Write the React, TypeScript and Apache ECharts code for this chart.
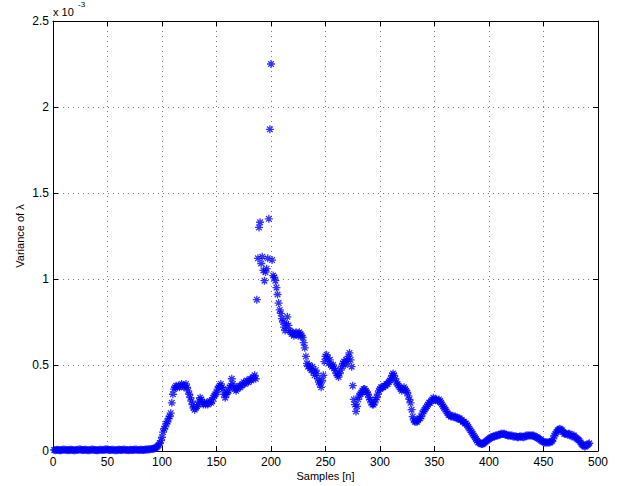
import React, { useEffect, useRef } from "react";
import * as echarts from "echarts";

// Variance of lambda (in units of 1e-3) per sample, stored as segments with their first sample index.
const baselineStart = 1;
const baseline = [
  0.006, 0.005, 0.006, 0.007, 0.006, 0.005, 0.005, 0.006, 0.007, 0.008,
  0.007, 0.006, 0.006, 0.005, 0.006, 0.007, 0.007, 0.006, 0.005, 0.005,
  0.006, 0.006, 0.007, 0.008, 0.008, 0.007, 0.006, 0.006, 0.007, 0.007,
  0.006, 0.005, 0.005, 0.006, 0.007, 0.008, 0.007, 0.006, 0.006, 0.005,
  0.005, 0.006, 0.007, 0.007, 0.006, 0.006, 0.007, 0.008, 0.009, 0.008,
  0.007, 0.006, 0.006, 0.007, 0.007, 0.006, 0.005, 0.005, 0.006, 0.007,
  0.007, 0.006, 0.006, 0.007, 0.008, 0.007, 0.006, 0.006, 0.005, 0.006,
  0.007, 0.006, 0.006, 0.007, 0.007, 0.008, 0.007, 0.006, 0.006, 0.007,
  0.007, 0.006, 0.006, 0.007, 0.008, 0.008, 0.009, 0.010, 0.010, 0.011,
  0.012, 0.013, 0.015,
];

const riseStart = 94;
const rise = [
  0.018, 0.022, 0.028, 0.035, 0.045, 0.06, 0.08, 0.11, 0.13, 0.14,
  0.16, 0.17, 0.19, 0.2, 0.22, 0.28, 0.33, 0.36, 0.37, 0.38,
  0.37, 0.38, 0.37, 0.38, 0.39, 0.38, 0.37, 0.38, 0.39, 0.37,
  0.35, 0.33, 0.31, 0.29, 0.27, 0.25, 0.24, 0.25, 0.26, 0.27,
  0.29, 0.31, 0.3, 0.28, 0.27, 0.28, 0.27, 0.28, 0.27, 0.28,
  0.29, 0.28, 0.29, 0.31, 0.32, 0.33, 0.34, 0.36, 0.37, 0.38,
  0.39, 0.37, 0.36, 0.33, 0.31, 0.33, 0.34, 0.35, 0.37, 0.38,
  0.42, 0.39, 0.37, 0.36, 0.35, 0.36, 0.37, 0.38, 0.37, 0.38,
  0.39, 0.4, 0.39, 0.4, 0.41, 0.4, 0.41, 0.42, 0.41, 0.42,
  0.43, 0.44, 0.42,
];

const burstStart = 187;
const burst = [
  0.88, 1.12, 1.3, 1.33, 1.09, 1.13, 1.05, 0.99, 1.04, 1.06,
  1.12, 1.35, 1.87, 2.25, 1.11, 1.02, 1.01, 0.99, 0.95, 0.91,
  0.86, 0.82, 0.8, 0.77, 0.75, 0.72, 0.7, 0.74, 0.78, 0.73,
  0.7, 0.69, 0.68, 0.69, 0.67, 0.68, 0.69, 0.68, 0.67, 0.69,
  0.68, 0.67, 0.66, 0.63, 0.6, 0.55, 0.51, 0.49, 0.5, 0.48,
  0.47, 0.49, 0.46, 0.44, 0.47, 0.45, 0.42, 0.4, 0.39, 0.37,
  0.41, 0.44, 0.52, 0.55, 0.56, 0.54, 0.51, 0.53, 0.5, 0.49,
  0.5, 0.48, 0.47, 0.45, 0.44, 0.43, 0.45, 0.47, 0.49, 0.51,
  0.52, 0.5, 0.53, 0.52, 0.55, 0.57, 0.53, 0.49,
];

const decayStart = 275;
const decay = [
  0.38, 0.3, 0.27, 0.23, 0.26, 0.3, 0.32, 0.33, 0.34, 0.35,
  0.36, 0.36, 0.35, 0.34, 0.33, 0.31, 0.3, 0.28, 0.27, 0.27,
  0.28, 0.3, 0.31, 0.33, 0.35, 0.36, 0.37, 0.37, 0.37, 0.38,
  0.38, 0.39, 0.39, 0.4, 0.41, 0.42, 0.44, 0.45, 0.44, 0.42,
  0.4, 0.39, 0.38, 0.37, 0.36, 0.35, 0.36, 0.37, 0.36, 0.35,
  0.34, 0.32, 0.3, 0.28, 0.24, 0.2, 0.18, 0.17, 0.17, 0.17,
  0.18, 0.19, 0.19, 0.2, 0.22, 0.23, 0.24, 0.25, 0.26, 0.27,
  0.28, 0.28, 0.29, 0.3, 0.31, 0.3, 0.3, 0.3, 0.29, 0.3,
  0.29, 0.28, 0.27, 0.26, 0.25, 0.24, 0.23, 0.22, 0.21, 0.21,
  0.2, 0.2, 0.2, 0.2, 0.2, 0.19, 0.19, 0.19, 0.19, 0.18,
  0.18, 0.17, 0.17, 0.16, 0.16, 0.15, 0.14, 0.13, 0.12, 0.11,
  0.1, 0.09, 0.08, 0.07, 0.06, 0.05, 0.05, 0.045,
];

const tailStart = 393;
const tail = [
  0.04, 0.04, 0.045, 0.05, 0.055, 0.06, 0.065, 0.07, 0.075, 0.08,
  0.08, 0.085, 0.085, 0.09, 0.09, 0.09, 0.095, 0.095, 0.1, 0.1,
  0.1, 0.1, 0.095, 0.095, 0.09, 0.09, 0.09, 0.09, 0.09, 0.085,
  0.085, 0.085, 0.085, 0.08, 0.08, 0.085, 0.085, 0.085, 0.08, 0.08,
  0.085, 0.09, 0.09, 0.09, 0.09, 0.09, 0.09, 0.09, 0.09, 0.085,
  0.08, 0.08, 0.075, 0.07, 0.065, 0.06, 0.055, 0.055, 0.05, 0.05,
  0.05, 0.05, 0.05, 0.05, 0.055, 0.06, 0.07, 0.09, 0.1, 0.11,
  0.12, 0.125, 0.13, 0.125, 0.12, 0.11, 0.1, 0.1, 0.1, 0.095,
  0.1, 0.1, 0.09, 0.085, 0.09, 0.09, 0.08, 0.075, 0.07, 0.065,
  0.06, 0.05, 0.04, 0.035, 0.03, 0.025, 0.03, 0.035, 0.04, 0.045,
];

const xTicks = [0, 50, 100, 150, 200, 250, 300, 350, 400, 450, 500];
const yTicks = [0, 0.5, 1, 1.5, 2, 2.5];

const FONT = "'Liberation Sans', Arial, Helvetica, sans-serif";
const ASTERISK = "path://M0,5L10,5M5,0L5,10M1.5,1.5L8.5,8.5M1.5,8.5L8.5,1.5";

function toPoints(start: number, values: number[]): [number, number][] {
  return values.map((v, i) => [start + i, v]);
}

export default function App() {
  const ref = useRef<HTMLDivElement>(null);

  useEffect(() => {
    if (!ref.current) return;
    const chart = echarts.init(ref.current, null, { renderer: "svg" });

    const points = [
      ...toPoints(baselineStart, baseline),
      ...toPoints(riseStart, rise),
      ...toPoints(burstStart, burst),
      ...toPoints(decayStart, decay),
      ...toPoints(tailStart, tail),
    ];

    const xMin = xTicks[0];
    const xMax = xTicks[xTicks.length - 1];
    const xStep = xTicks[1] - xTicks[0];
    const yMin = yTicks[0];
    const yMax = yTicks[yTicks.length - 1];
    const yStep = yTicks[1] - yTicks[0];

    const gridLine = { show: true, lineStyle: { color: "#7a7a7a", width: 1, type: [1, 4] as any } };
    const axisLine = { show: true, onZero: false, lineStyle: { color: "#000", width: 1 } };
    const axisTick = { show: true, inside: true, length: 5, lineStyle: { color: "#000", width: 1 } };
    const label = { color: "#000", fontFamily: FONT, fontSize: 12 };

    chart.setOption({
      animation: false,
      backgroundColor: "#fff",
      grid: { left: 53, top: 21, right: 19, bottom: 35, containLabel: false },
      graphic: [
        {
          type: "text",
          left: 53,
          top: 6,
          style: { text: "x 10", fill: "#000", font: `11px ${FONT}` },
        },
        {
          type: "text",
          left: 78,
          top: 0,
          style: { text: "-3", fill: "#000", font: `8px ${FONT}` },
        },
      ],
      xAxis: [
        {
          type: "value",
          position: "bottom",
          min: xMin,
          max: xMax,
          interval: xStep,
          name: "Samples [n]",
          nameLocation: "middle",
          nameGap: 19,
          nameMoveOverlap: false,
          nameTextStyle: { color: "#000", fontFamily: FONT, fontSize: 11 },
          axisLine,
          axisTick,
          axisLabel: { ...label, margin: 5 },
          splitLine: gridLine,
        },
        {
          type: "value",
          position: "top",
          min: xMin,
          max: xMax,
          interval: xStep,
          axisLine,
          axisTick,
          axisLabel: { show: false },
          splitLine: { show: false },
        },
      ],
      yAxis: [
        {
          type: "value",
          position: "left",
          min: yMin,
          max: yMax,
          interval: yStep,
          name: "Variance of λ",
          nameLocation: "middle",
          nameGap: 28,
          nameMoveOverlap: false,
          nameTextStyle: { color: "#000", fontFamily: FONT, fontSize: 11 },
          axisLine,
          axisTick,
          axisLabel: { ...label, margin: 4 },
          splitLine: gridLine,
        },
        {
          type: "value",
          position: "right",
          min: yMin,
          max: yMax,
          interval: yStep,
          axisLine,
          axisTick,
          axisLabel: { show: false },
          splitLine: { show: false },
        },
      ],
      series: [
        {
          type: "scatter",
          xAxisIndex: 0,
          yAxisIndex: 0,
          data: points,
          symbol: ASTERISK,
          symbolSize: 8,
          itemStyle: { color: "transparent", borderColor: "#0000ff", borderWidth: 1.3 },
          emphasis: { disabled: true },
        },
      ],
    });

    return () => chart.dispose();
  }, []);

  return (
    <div
      ref={ref}
      style={{ position: "absolute", left: 0, top: 0, width: 617, height: 486 }}
    />
  );
}
